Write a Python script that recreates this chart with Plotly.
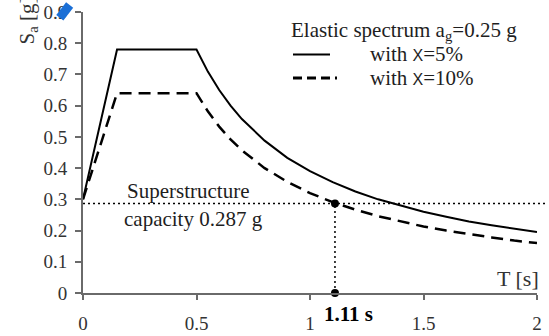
import plotly.graph_objects as go

# ---- data ----
T = [0, 0.15, 0.5, 0.55, 0.6, 0.65, 0.7, 0.8, 0.9, 1.0, 1.1, 1.2, 1.3, 1.4, 1.5, 1.6, 1.7, 1.8, 1.9, 2.0]
Sa_5 = [0.30, 0.78, 0.78, 0.709, 0.65, 0.60, 0.557, 0.488, 0.433, 0.39, 0.355, 0.325, 0.30, 0.279, 0.26,
        0.244, 0.229, 0.217, 0.205, 0.195]
Sa_10 = [0.30, 0.64, 0.64, 0.582, 0.533, 0.492, 0.457, 0.40, 0.356, 0.32, 0.291, 0.267, 0.246, 0.229, 0.213,
         0.20, 0.188, 0.178, 0.168, 0.16]
capacity = 0.287
T_cross = 1.11
x_ticks = [0, 0.5, 1, 1.5, 2]
x_tick_labels = ["0", "0.5", "1", "1.5", "2"]
y_ticks = [0, 0.1, 0.2, 0.3, 0.4, 0.5, 0.6, 0.7, 0.8, 0.9]
y_tick_labels = ["0", "0.1", "0.2", "0.3", "0.4", "0.5", "0.6", "0.7", "0.8", "0.9"]

W, H = 549, 336
ML, MR, MT, MB = 83, 12, 2, 36
PW, PH = W - ML - MR, H - MT - MB


def px(x):
    return (x - ML) / PW


def py(y):
    return (H - MB - y) / PH


SERIF = "Liberation Serif, Times New Roman, serif"
AX = "#6a6a6a"
BLUE = "#1a6fd6"

fig = go.Figure()
fig.add_trace(go.Scatter(x=T, y=Sa_5, mode="lines", line=dict(color="black", width=2), showlegend=False))
fig.add_trace(go.Scatter(x=T, y=Sa_10, mode="lines", line=dict(color="black", width=2.5, dash="12px,7px"),
                         showlegend=False))
# vertical dotted line
fig.add_trace(go.Scatter(x=[T_cross, T_cross], y=[0, capacity], mode="lines",
                         line=dict(color="black", width=1.5, dash="2px,3px"), showlegend=False))
# points
fig.add_trace(go.Scatter(x=[T_cross, T_cross], y=[capacity, 0], mode="markers", cliponaxis=False,
                         marker=dict(color="black", size=8), showlegend=False))

shapes = [
    # horizontal capacity line, extends past the axis end
    dict(type="line", xref="paper", yref="y", x0=0, x1=px(W - 1), y0=capacity, y1=capacity,
         line=dict(color="black", width=1.5, dash="2px,3px")),
    # legend samples
    dict(type="line", xref="paper", yref="paper", x0=px(293), x1=px(330), y0=py(47), y1=py(47),
         line=dict(color="black", width=2)),
    dict(type="line", xref="paper", yref="paper", x0=px(293), x1=px(337), y0=py(72), y1=py(72),
         line=dict(color="black", width=3, dash="9px,5px")),
]

TXT = "#1e1e1e"
FS = 21
ann = [
    dict(text="Elastic spectrum a<sub>g</sub>=0.25 g", x=px(289), y=py(22), xanchor="left", yanchor="middle",
         font=dict(size=FS, family=SERIF, color=TXT)),
    dict(text="with <span style='font-family:Arial;font-size:16px'>X</span>=5%", x=px(368), y=py(47),
         xanchor="left", yanchor="middle", font=dict(size=FS, family=SERIF, color=TXT)),
    dict(text="with <span style='font-family:Arial;font-size:16px'>X</span>=10%", x=px(368), y=py(72),
         xanchor="left", yanchor="middle", font=dict(size=FS, family=SERIF, color=TXT)),
    dict(text="Superstructure", x=px(188), y=py(192), xanchor="center", yanchor="middle",
         font=dict(size=FS, family=SERIF, color=TXT)),
    dict(text="capacity 0.287 g", x=px(193), y=py(222), xanchor="center", yanchor="middle",
         font=dict(size=FS, family=SERIF, color=TXT)),
    dict(text="T [s]", x=px(541), y=py(285), xanchor="right", yanchor="middle",
         font=dict(size=22, family=SERIF, color="#333")),
    dict(text="<b>1.11 s</b>", x=px(348), y=py(322), xanchor="center", yanchor="middle",
         font=dict(size=21, family=SERIF, color="black")),
    dict(text="S<sub>a</sub> [g]", x=px(28), y=py(11), xanchor="center", yanchor="middle", textangle=-90,
         font=dict(size=21, family=SERIF, color="#333")),
    # blue fragment at the top-left corner (covers part of the top tick label)
    dict(text=" ", x=px(65), y=py(1), xanchor="center", yanchor="middle", width=8, height=15,
         bgcolor=BLUE, borderpad=0, textangle=38, font=dict(size=6)),
]
for a in ann:
    a.update(xref="paper", yref="paper", showarrow=False)

fig.update_layout(
    width=W, height=H, margin=dict(l=ML, r=MR, t=MT, b=MB),
    plot_bgcolor="white", paper_bgcolor="white",
    shapes=shapes, annotations=ann,
    xaxis=dict(range=[0, 2], tickvals=x_ticks, ticktext=x_tick_labels, showgrid=False, zeroline=False,
               showline=True, linecolor=AX, linewidth=2, ticks="outside", ticklen=5, tickwidth=1.5,
               tickcolor=AX, ticklabelstandoff=7, ticklabeloverflow="allow",
               tickfont=dict(size=19, family=SERIF, color="#333")),
    yaxis=dict(range=[0, 0.9], tickvals=y_ticks, ticktext=y_tick_labels, showgrid=False, zeroline=False,
               showline=True, linecolor=AX, linewidth=2, ticks="outside", ticklen=6, tickwidth=1.5,
               tickcolor=AX, ticklabelstandoff=4, ticklabeloverflow="allow",
               tickfont=dict(size=19, family=SERIF, color="#333")),
)

fig.write_html("out.html")
